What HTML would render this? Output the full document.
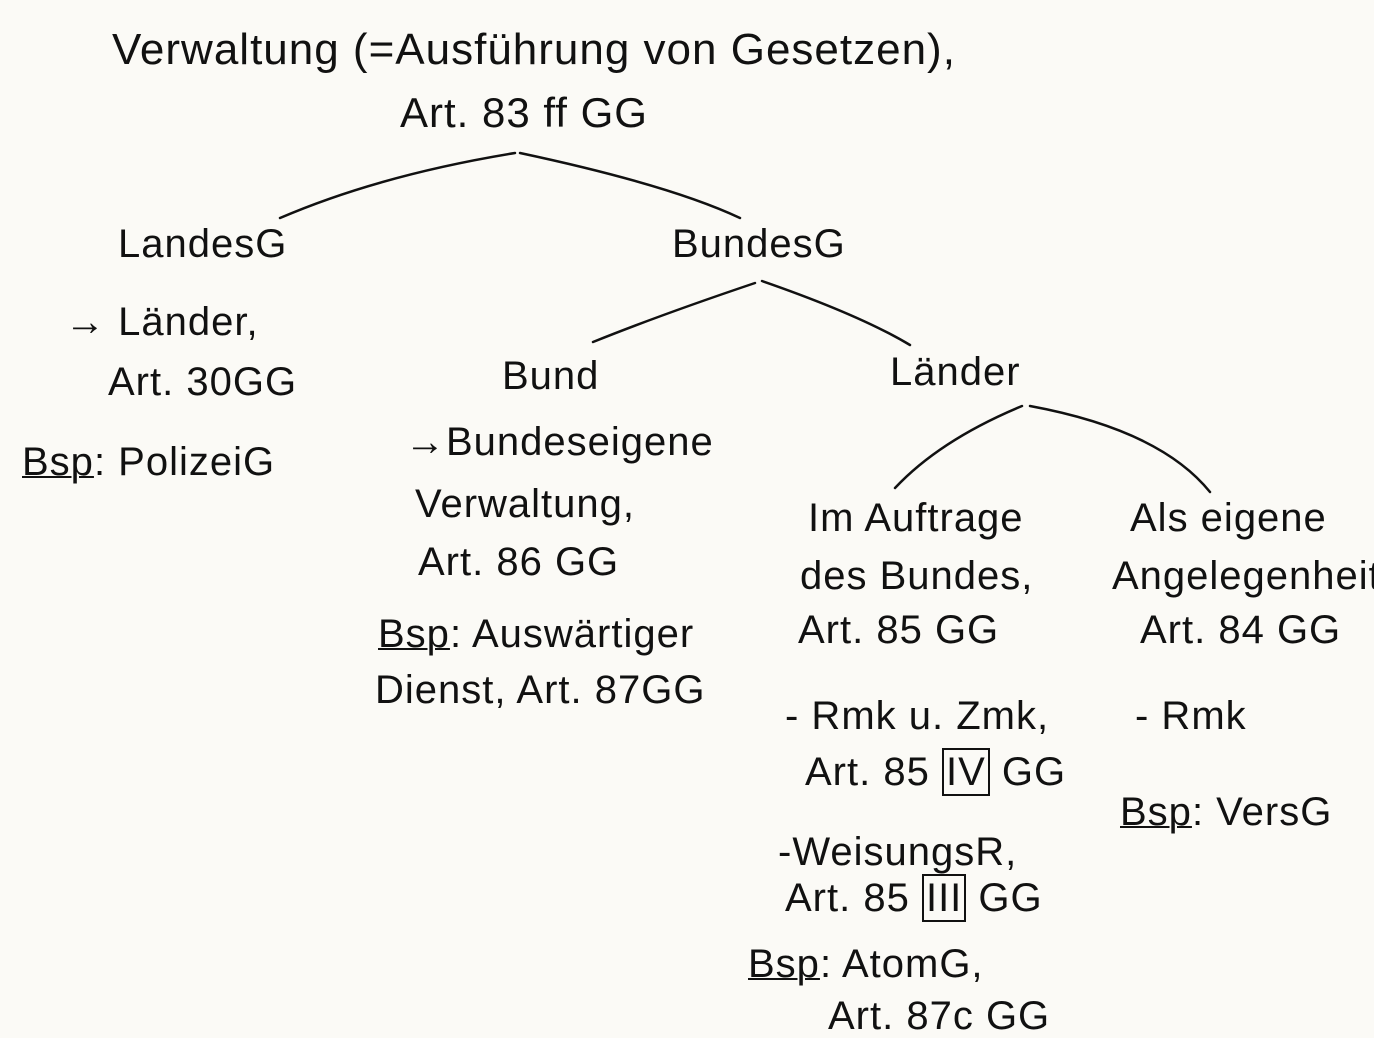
<!DOCTYPE html>
<html><head><meta charset="utf-8"><style>
html,body{margin:0;padding:0}
body{width:1374px;height:1033px;background:#fbfaf6;position:relative;overflow:hidden;font-family:"Liberation Sans",sans-serif;color:#111}
.t{position:absolute;white-space:nowrap;font-size:40px;line-height:1;letter-spacing:1px}
svg{position:absolute;left:0;top:0}
u{text-decoration-thickness:2px}
</style></head><body>
<svg width="1374" height="1033" fill="none" stroke="#111" stroke-width="2.5" stroke-linecap="round">
<path d="M515 153 Q380 175 280 218"/>
<path d="M520 153 Q670 185 740 218"/>
<path d="M755 283 Q660 315 593 342"/>
<path d="M762 281 Q860 315 910 345"/>
<path d="M1022 406 Q940 440 895 488"/>
<path d="M1030 406 Q1160 430 1210 492"/>
</svg>
<div class="t" style="left:112px;top:28px;font-size:44px">Verwaltung (=Ausführung von Gesetzen),</div>
<div class="t" style="left:400px;top:92px;font-size:42px">Art. 83 ff GG</div>
<div class="t" style="left:118px;top:224px">LandesG</div>
<div class="t" style="left:672px;top:224px">BundesG</div>
<div class="t" style="left:65px;top:302px">→ Länder,</div>
<div class="t" style="left:108px;top:362px">Art. 30GG</div>
<div class="t" style="left:22px;top:442px"><u>Bsp</u>: PolizeiG</div>
<div class="t" style="left:502px;top:356px">Bund</div>
<div class="t" style="left:890px;top:352px">Länder</div>
<div class="t" style="left:405px;top:422px">→Bundeseigene</div>
<div class="t" style="left:415px;top:484px">Verwaltung,</div>
<div class="t" style="left:418px;top:542px">Art. 86 GG</div>
<div class="t" style="left:378px;top:614px"><u>Bsp</u>: Auswärtiger</div>
<div class="t" style="left:375px;top:670px">Dienst, Art. 87GG</div>
<div class="t" style="left:808px;top:498px">Im Auftrage</div>
<div class="t" style="left:800px;top:556px">des Bundes,</div>
<div class="t" style="left:798px;top:610px">Art. 85 GG</div>
<div class="t" style="left:1130px;top:498px">Als eigene</div>
<div class="t" style="left:1112px;top:556px">Angelegenheit,</div>
<div class="t" style="left:1140px;top:610px">Art. 84 GG</div>
<div class="t" style="left:785px;top:696px">- Rmk u. Zmk,</div>
<div class="t" style="left:805px;top:752px">Art. 85 <span style="border:2px solid #111;padding:0 2px">IV</span> GG</div>
<div class="t" style="left:1135px;top:696px">- Rmk</div>
<div class="t" style="left:1120px;top:792px"><u>Bsp</u>: VersG</div>
<div class="t" style="left:778px;top:832px">-WeisungsR,</div>
<div class="t" style="left:785px;top:878px">Art. 85 <span style="border:2px solid #111;padding:0 2px">III</span> GG</div>
<div class="t" style="left:748px;top:944px"><u>Bsp</u>: AtomG,</div>
<div class="t" style="left:828px;top:996px">Art. 87c GG</div>
</body></html>
